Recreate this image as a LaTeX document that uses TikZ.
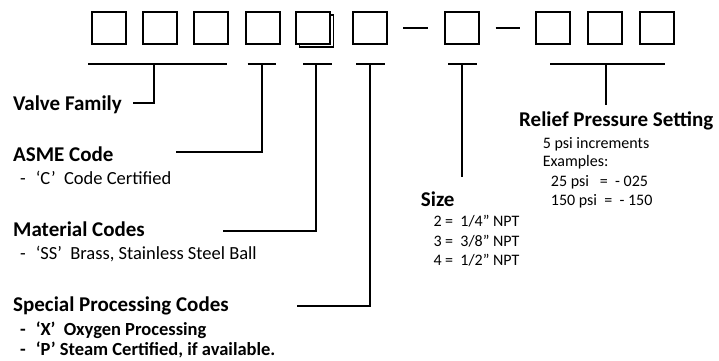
\documentclass[tikz,border=0pt]{standalone}
\usepackage{fontspec}
\setmainfont{Carlito}
\begin{document}
\begin{tikzpicture}[x=1pt,y=-1pt,
  codebox/.style={draw=black,line width=2pt,fill=white,minimum width=34pt,minimum height=32pt,inner sep=0pt},
  shadowbox/.style={draw=black,line width=1.6pt,minimum width=34pt,minimum height=32pt,inner sep=0pt},
  conn/.style={draw=black,line width=2pt},
  head/.style={anchor=base west,inner sep=0pt,font=\fontsize{21}{25}\selectfont\bfseries},
  lbody/.style={anchor=base west,inner sep=0pt,font=\fontsize{18.5}{22}\selectfont},
  lbbody/.style={anchor=base west,inner sep=0pt,font=\fontsize{18.5}{22}\selectfont\bfseries},
  body/.style={anchor=base west,inner sep=0pt,font=\fontsize{16}{19}\selectfont}]
\useasboundingbox (0,0) rectangle (719,360);
% code boxes
\node[codebox] (b1) at (108.75,28) {};
\node[codebox] (b2) at (160.45,28) {};
\node[codebox] (b3) at (211.05,28) {};
\node[codebox] (b4) at (262.75,28) {};
\node[shadowbox] (b5s) at (316.45,31) {};
\node[codebox] (b5) at (313.45,28) {};
\node[codebox] (b6) at (370.45,28) {};
\node[codebox] (b7) at (461.75,28) {};
\node[codebox] (b8) at (553.45,28) {};
\node[codebox] (b9) at (605.05,28) {};
\node[codebox] (b10) at (657.05,28) {};
% dashes
\coordinate (d1a) at (403,27.7); \coordinate (d1b) at (428,27.7);
\coordinate (d2a) at (495.7,27.7); \coordinate (d2b) at (520,27.7);
\draw[conn] (d1a) -- (d1b);
\draw[conn] (d2a) -- (d2b);
% texts
\node[head] (vf) at (13,110) {Valve Family};
\node[head] (asme) at (13,161.5) {ASME Code};
\node[lbody] (asme1) at (20,184.5) {-\hspace{10pt}‘C’\ \ Code Certified};
\node[head] (mat) at (13,236) {Material Codes};
\node[lbody] (mat1) at (20,259) {-\hspace{10pt}‘SS’\ \ Brass, Stainless Steel Ball};
\node[head] (spc) at (13,311) {Special Processing Codes};
\node[lbbody] (spc1) at (20,335.5) {-\hspace{10pt}‘X’\ \ Oxygen Processing};
\node[lbbody] (spc2) at (20,355) {-\hspace{10pt}‘P’ Steam Certified, if available.};
\node[head] (size) at (420.7,206) {Size};
\node[body] (size1) at (433.3,226) {2 =\ \ 1/4” NPT};
\node[body] (size2) at (433.3,246) {3 =\ \ 3/8” NPT};
\node[body] (size3) at (433.3,265.7) {4 =\ \ 1/2” NPT};
\node[head] (rel) at (519,126.7) {Relief Pressure Setting};
\node[body] (rel1) at (542.7,148.3) {5 psi increments};
\node[body] (rel2) at (542.7,166.5) {Examples:};
\node[body] (rel3) at (550.7,186.7) {25 psi\hspace{11pt}=\ \ - 025};
\node[body] (rel4) at (550.7,205) {150 psi\ \ =\ \ - 150};
% brackets
\coordinate (vfL) at (88.3,64.3); \coordinate (vfR) at (227.3,64.3);
\coordinate (vfT) at (154,64.3); \coordinate (vfE) at (133.3,103.3);
\draw[conn] (vfL) -- (vfR);
\draw[conn] (vfT) |- (vfE);
\coordinate (asL) at (247.7,64.3); \coordinate (asR) at (275.7,64.3);
\coordinate (asT) at (262.3,64.3); \coordinate (asE) at (176,152);
\draw[conn] (asL) -- (asR);
\draw[conn] (asT) |- (asE);
\coordinate (maL) at (303.3,64.3); \coordinate (maR) at (331.7,64.3);
\coordinate (maT) at (316,64.3); \coordinate (maE) at (223.3,230.7);
\draw[conn] (maL) -- (maR);
\draw[conn] (maT) |- (maE);
\coordinate (spL) at (356,64.3); \coordinate (spR) at (385,64.3);
\coordinate (spT) at (370,64.3); \coordinate (spE) at (296.7,305.7);
\draw[conn] (spL) -- (spR);
\draw[conn] (spT) |- (spE);
\coordinate (szL) at (448.3,64.3); \coordinate (szR) at (476.7,64.3);
\coordinate (szT) at (462.3,64.3); \coordinate (szE) at (462.3,176.7);
\draw[conn] (szL) -- (szR);
\draw[conn] (szT) -- (szE);
\coordinate (reL) at (550,64.3); \coordinate (reR) at (665,64.3);
\coordinate (reT) at (606,64.3); \coordinate (reE) at (606,105);
\draw[conn] (reL) -- (reR);
\draw[conn] (reT) -- (reE);
\end{tikzpicture}
\end{document}
